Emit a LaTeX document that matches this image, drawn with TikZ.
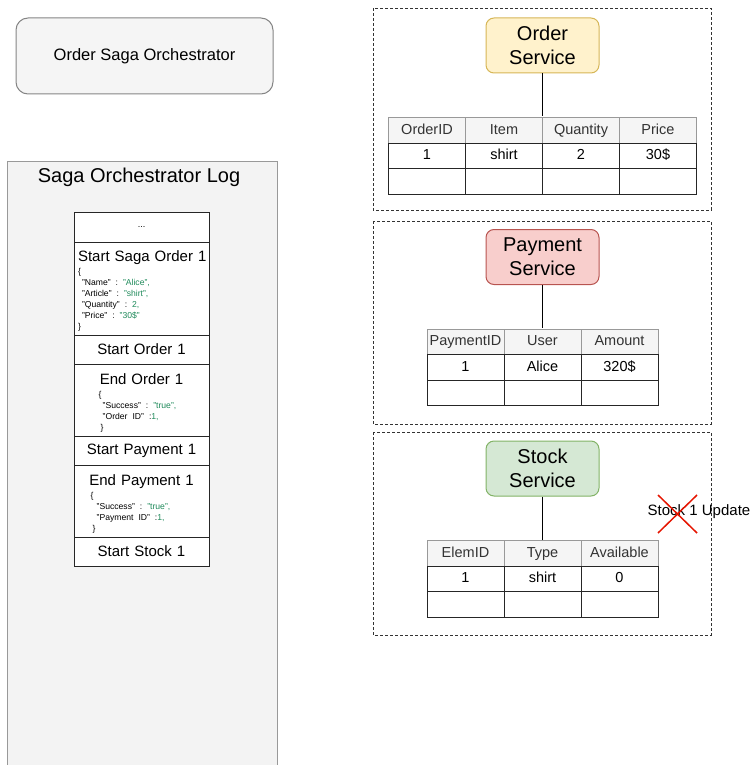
\documentclass[tikz,border=0pt]{standalone}
\usepackage{fontspec}
\setmainfont{Liberation Sans}
\usetikzlibrary{matrix, positioning}

\definecolor{boxgray}{HTML}{F5F5F5}
\definecolor{loggray}{HTML}{F3F3F3}
\definecolor{edgegray}{HTML}{666666}
\definecolor{ordfill}{HTML}{FFF2CC}
\definecolor{orddraw}{HTML}{D6B656}
\definecolor{payfill}{HTML}{F8CECC}
\definecolor{paydraw}{HTML}{B85450}
\definecolor{stkfill}{HTML}{D5E8D4}
\definecolor{stkdraw}{HTML}{82B366}
\definecolor{jsongreen}{HTML}{1E8A5A}
\definecolor{crossred}{HTML}{E51400}

\newcommand{\jv}[1]{\textcolor{jsongreen}{#1}}
\newcommand{\jsonfont}{\fontsize{8.6}{11}\selectfont\frenchspacing}
\newcommand{\logfont}{\fontsize{15}{18}\selectfont}
\newcommand{\toppad}{\rule{0pt}{18pt}}

\begin{document}
\begin{tikzpicture}[x=1pt, y=-1pt, line width=1pt,
  panel/.style={draw=black!80, densely dashed, line width=0.7pt},
  svcbox/.style={draw, rounded corners=8pt, minimum width=113pt, minimum height=55pt,
    align=center, font=\fontsize{20}{24}\selectfont},
  logbox/.style={draw=black!85, fill=white, minimum width=135pt, text width=131pt,
    inner sep=2pt, outer sep=0pt, font=\logfont},
  jsonbox/.style={logbox, inner ysep=0pt},
  dbtable/.style={matrix of nodes, nodes in empty cells, inner sep=0pt,
    column sep=-1pt, row sep=-1pt,
    nodes={draw=black!85, fill=white, minimum width=77pt, minimum height=25.5pt,
      text height=10.5pt, text depth=3pt,
      inner sep=0pt, outer sep=0pt, anchor=center, font=\fontsize{14.5}{17}\selectfont},
    row 1/.style={nodes={fill=boxgray, draw=black!40, text=black!80}}}]

  \useasboundingbox (0,0) rectangle (752,765);

  % Orchestrator
  \node[draw=edgegray!80, fill=boxgray, rounded corners=12pt, minimum width=257pt,
    minimum height=76pt, font=\fontsize{16.5}{20}\selectfont] (orch) at (144.5,56) {Order Saga Orchestrator};

  % Log panel
  \fill[loggray] (7,161) rectangle (277,767);
  \draw[draw=black!40] (7,767) -- (7,161) -- (277,161) -- (277,767);
  \node[font=\fontsize{20}{24}\selectfont] (logtitle) at (139,177) {Saga Orchestrator Log};

  % Log entries
  \node[logbox, minimum height=30pt, align=center, font=\fontsize{9}{11}\selectfont] (dots) at (141.5,227) {...};
  \node[jsonbox, minimum height=93pt, align=left, below=0pt of dots] (saga) {\toppad\hspace*{2pt}Start Saga Order 1\\[-5pt]
    {\jsonfont\begin{tabular}[t]{@{\hspace{2pt}}l@{}}
      \{\\
      \hspace{4pt}"Name" : \jv{"Alice",}\\
      \hspace{4pt}"Article" : \jv{"shirt",}\\
      \hspace{4pt}"Quantity" : \jv{2,}\\
      \hspace{4pt}"Price" : \jv{"30\$"}\\
      \}
    \end{tabular}}};
  \node[logbox, minimum height=29pt, align=center, below=0pt of saga] (startord) {Start Order 1};
  \node[jsonbox, minimum height=72pt, align=center, below=0pt of startord] (endord) {\toppad End Order 1\\[-5pt]
    {\jsonfont\begin{tabular}[t]{@{}l@{\hspace{8pt}}}
      \{\\
      \hspace{4pt}"Success" : \jv{"true",}\\
      \hspace{4pt}"Order ID" :\jv{1,}\\
      \hspace{2pt}\}
    \end{tabular}}};
  \node[logbox, minimum height=29pt, align=center, below=0pt of endord] (startpay) {Start Payment 1};
  \node[jsonbox, minimum height=72pt, align=center, below=0pt of startpay] (endpay) {\toppad End Payment 1\\[-5pt]
    {\jsonfont\begin{tabular}[t]{@{}l@{\hspace{22pt}}}
      \{\\
      \hspace{6pt}"Success" : \jv{"true",}\\
      \hspace{6pt}"Payment ID" :\jv{1,}\\
      \hspace{2pt}\}
    \end{tabular}}};
  \node[logbox, minimum height=29pt, align=center, below=0pt of endpay] (startstk) {Start Stock 1};

  % Service panels
  \draw[panel] (373,8) rectangle (711,210);
  \draw[panel] (373,221) rectangle (711,424);
  \draw[panel] (373,432) rectangle (711,635);

  % Order service
  \node[svcbox, fill=ordfill, draw=orddraw] (ordsvc) at (542.5,45.5) {Order\\Service};
  \matrix (ordtab) [dbtable, below=43pt of ordsvc] {
    OrderID & Item  & Quantity & Price \\
    1       & shirt & 2        & 30\$  \\
            &       &          &       \\
  };
  \draw (ordsvc.south) -- (ordtab.north);

  % Payment service
  \node[svcbox, fill=payfill, draw=paydraw] (paysvc) at (542.5,257) {Payment\\Service};
  \matrix (paytab) [dbtable, below=43pt of paysvc] {
    PaymentID & User  & Amount \\
    1         & Alice & 320\$  \\
              &       &        \\
  };
  \draw (paysvc.south) -- (paytab.north);

  % Stock service
  \node[svcbox, fill=stkfill, draw=stkdraw] (stksvc) at (542.5,468.5) {Stock\\Service};
  \matrix (stktab) [dbtable, below=43pt of stksvc] {
    ElemID & Type  & Available \\
    1      & shirt & 0         \\
           &       &           \\
  };
  \draw (stksvc.south) -- (stktab.north);

  % Failed update
  \node[font=\fontsize{15}{18}\selectfont] (stkupd) at (699,512) {Stock 1 Update};
  \draw[crossred, line width=1.5pt] (658,495) -- (697,533) (697,495) -- (658,533);
\end{tikzpicture}
\end{document}
